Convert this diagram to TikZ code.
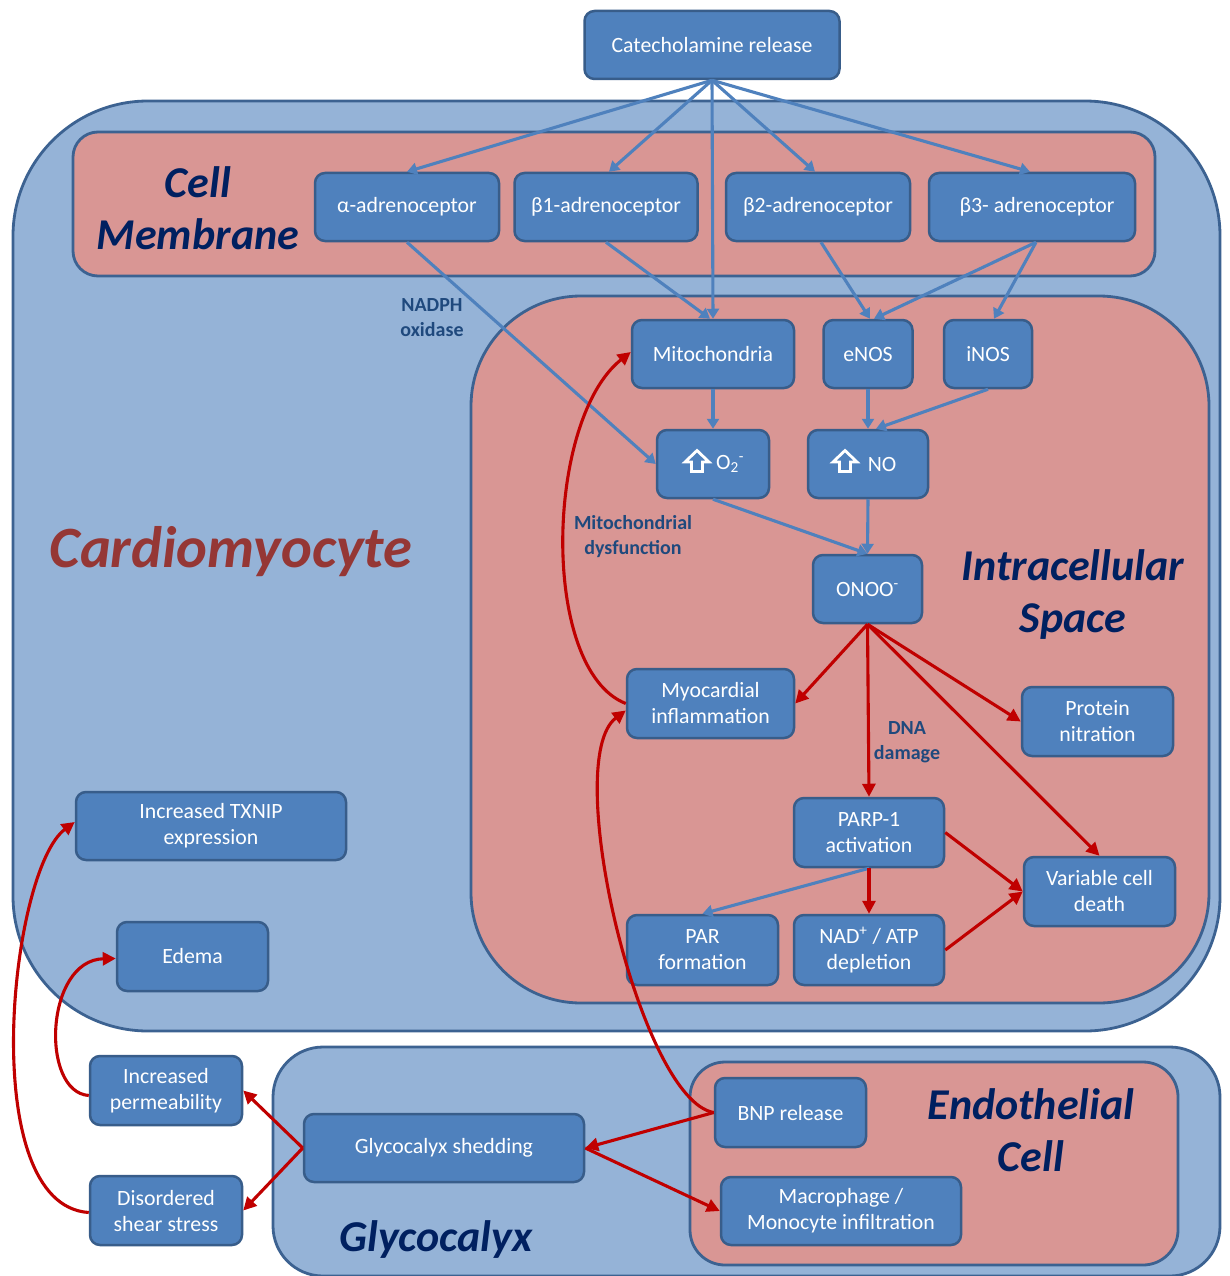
\documentclass[tikz,border=0pt]{standalone}
\usepackage{fontspec}
\setmainfont{Carlito}
\usetikzlibrary{arrows.meta}
\definecolor{boxfill}{HTML}{4F81BD}
\definecolor{boxborder}{HTML}{385D8A}
\definecolor{lightreg}{HTML}{95B3D7}
\definecolor{pinkreg}{HTML}{D99694}
\definecolor{regborder}{HTML}{3C6291}
\definecolor{conblue}{HTML}{4F81BD}
\definecolor{conred}{HTML}{C00000}
\definecolor{navy}{HTML}{002060}
\definecolor{cardred}{HTML}{953735}
\definecolor{smalllab}{HTML}{1F497D}
\newcommand\myuparrow[1]{\draw[white, line width=2.8pt, line join=miter] #1 ++(0,-10.5) -- ++(12,11.5) -- ++(-6.5,0) -- ++(0,9.5) -- ++(-11,0) -- ++(0,-9.5) -- ++(-6.5,0) -- cycle;}
\begin{document}
\begin{tikzpicture}[x=1pt,y=-1pt,
  box/.style={draw=boxborder, fill=boxfill, line width=2.5pt, rounded corners=10pt,
    text=white, font=\fontsize{21.8}{26}\selectfont, align=center, inner sep=0pt},
  region/.style={draw=regborder, line width=2.8pt},
  biglab/.style={font=\fontsize{44}{52}\selectfont\bfseries\itshape, text=navy, align=center},
  smlab/.style={font=\fontsize{20}{25}\selectfont\bfseries, text=smalllab, align=center},
  barrow/.style={draw=conblue, line width=3.1pt, -{Triangle[length=10pt,width=12pt]}},
  rarrow/.style={draw=conred, line width=3.1pt, -{Triangle[length=13pt,width=13pt]}},
]
\useasboundingbox (0,0) rectangle (1229,1276);
\fill[white] (0,0) rectangle (1229,1276);

% regions
\draw[region, fill=lightreg, rounded corners=135pt] (13,101) rectangle (1220,1031);
\draw[region, fill=pinkreg, rounded corners=25pt] (73,132) rectangle (1155,276);
\draw[region, fill=pinkreg, rounded corners=110pt] (471,296) rectangle (1209,1003);
\draw[region, fill=lightreg, rounded corners=50pt] (273,1047) rectangle (1220,1276);
\draw[region, fill=pinkreg, rounded corners=35pt] (690,1062) rectangle (1178,1265);

% region labels
\node[biglab] (lcm) at (198,208) {Cell\\Membrane};
\node[biglab, text=cardred, font=\fontsize{58.5}{60}\selectfont\bfseries\itshape] (lcardio) at (231,552) {Cardiomyocyte};
\node[biglab] (lintra) at (1073,595) {Intracellular\\Space};
\node[biglab] (lendo) at (1031,1130) {Endothelial\\Cell};
\node[biglab] (lgly) at (436,1240) {Glycocalyx};
\node[smlab] (lnadph) at (432,318) {NADPH\\oxidase};
\node[smlab] (lmitod) at (633,537) {Mitochondrial\\dysfunction};
\node[smlab] (ldna) at (907,742) {DNA\\damage};

% boxes
\node[box, minimum width=255, minimum height=68] (cat) at (712,45) {Catecholamine release};
\node[box, minimum width=184, minimum height=68] (alpha) at (407,207) {α-adrenoceptor};
\node[box, minimum width=183, minimum height=68] (b1) at (606,207) {β1-adrenoceptor};
\node[box, minimum width=184, minimum height=68] (b2) at (818,207) {β2-adrenoceptor};
\node[box, minimum width=206, minimum height=68] (b3) at (1032,207) {\hspace{10pt}β3- adrenoceptor};
\node[box, minimum width=162, minimum height=68] (mito) at (713,354) {Mitochondria};
\node[box, minimum width=89, minimum height=68] (enos) at (868,354) {eNOS};
\node[box, minimum width=88, minimum height=68] (inos) at (988,354) {iNOS};
\node[box, minimum width=112, minimum height=68] (o2) at (713,464) {\hspace{34pt}O\textsubscript{2}\textsuperscript{-}};
\node[box, minimum width=120, minimum height=68] (no) at (868,464) {\hspace{28pt}NO};
\node[box, minimum width=109, minimum height=68] (onoo) at (867.5,589) {ONOO\textsuperscript{-}};
\node[box, minimum width=167, minimum height=69] (myo) at (710.5,703.5) {Myocardial\\inflammation};
\node[box, minimum width=151, minimum height=69] (prot) at (1097.5,721.5) {Protein\\nitration};
\node[box, minimum width=150, minimum height=69] (parp) at (869,832.5) {PARP-1\\activation};
\node[box, minimum width=151, minimum height=69] (var) at (1099.5,891.5) {Variable cell\\death};
\node[box, minimum width=151, minimum height=70] (par) at (702.5,950) {PAR\\formation};
\node[box, minimum width=150, minimum height=70] (nad) at (869,950) {NAD\textsuperscript{+} / ATP\\depletion};
\node[box, minimum width=270, minimum height=68] (txnip) at (211,826) {Increased TXNIP\\expression};
\node[box, minimum width=151, minimum height=69] (edema) at (192.5,956.5) {Edema};
\node[box, minimum width=152, minimum height=69] (perm) at (166,1090.5) {Increased\\permeability};
\node[box, minimum width=152, minimum height=69] (shear) at (166,1210.5) {Disordered\\shear stress};
\node[box, minimum width=280, minimum height=68] (shed) at (444,1148) {Glycocalyx shedding};
\node[box, minimum width=151, minimum height=69] (bnp) at (790.5,1112.5) {BNP release};
\node[box, minimum width=240, minimum height=68] (macro) at (841,1211) {Macrophage /\\Monocyte infiltration};

% hollow up arrows
\myuparrow{([xshift=-16pt,yshift=3pt]o2.center)}
\myuparrow{([xshift=-23pt,yshift=3pt]no.center)}

% blue connectors
\draw[barrow] (cat.south) -- (alpha.north);
\draw[barrow] (cat.south) -- ([xshift=3pt]b1.north);
\draw[barrow] (cat.south) -- (mito.north);
\draw[barrow] (cat.south) -- ([xshift=-3pt]b2.north);
\draw[barrow] (cat.south) -- ([xshift=-2pt]b3.north);
\draw[barrow] (alpha.south) -- (o2.west);
\draw[barrow] (b1.south) -- ([xshift=-3pt]mito.north);
\draw[barrow] ([xshift=3pt]b2.south) -- ([xshift=2pt]enos.north);
\draw[barrow] ([xshift=4pt]b3.south) -- ([xshift=6pt]enos.north);
\draw[barrow] ([xshift=4pt]b3.south) -- ([xshift=6pt]inos.north);
\draw[barrow] (mito.south) -- (o2.north);
\draw[barrow] (enos.south) -- (no.north);
\draw[barrow] (inos.south) -- ([xshift=8pt]no.north);
\draw[barrow] (o2.south) -- (onoo.north);
\draw[barrow] (no.south) -- (onoo.north);
\draw[barrow] (parp.south) -- (par.north);

% red connectors
\draw[rarrow] (onoo.south) -- (myo.east);
\draw[rarrow] (onoo.south) -- (parp.north);
\draw[rarrow] (onoo.south) -- (prot.west);
\draw[rarrow] (onoo.south) -- (var.north);
\draw[rarrow] (parp.east) -- (var.west);
\draw[rarrow] (nad.east) -- (var.west);
\draw[rarrow] (parp.south) -- (nad.north);
\draw[rarrow] (myo.west) .. controls (540,670) and (545,420) .. ([yshift=2pt]mito.west);
\draw[rarrow] (bnp.west) .. controls (640,1100) and (560,760) .. ([yshift=-7pt]myo.west);
\draw[rarrow] (bnp.west) -- (shed.east);
\draw[rarrow] (shed.east) -- (macro.west);
\draw[rarrow] (shed.west) -- (perm.east);
\draw[rarrow] (shed.west) -- (shear.east);
\draw[rarrow] ([yshift=-5pt]perm.west) .. controls (40,1092) and (45,960) .. ([yshift=-2pt]edema.west);
\draw[rarrow] ([yshift=-2pt]shear.west) .. controls (-25,1205) and (10,870) .. ([yshift=4pt]txnip.west);
\end{tikzpicture}
\end{document}
